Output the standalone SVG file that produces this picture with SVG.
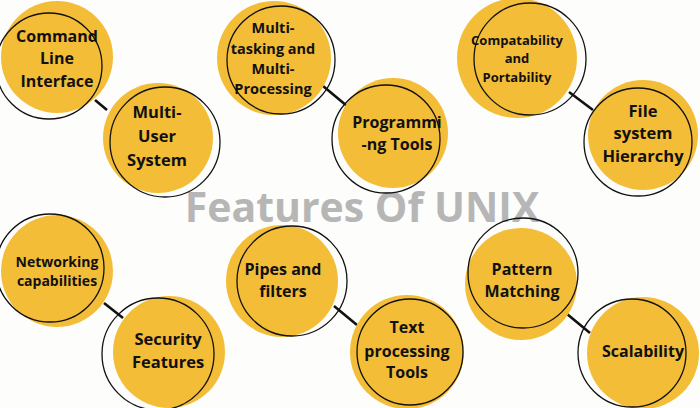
<svg xmlns="http://www.w3.org/2000/svg" width="700" height="408" viewBox="0 0 700 408">
  <style>
    .fill { fill: #f3bd38; }
    .ring { fill: none; stroke: #111; stroke-width: 1.3; }
    .lbl { font-family: "Open Sans", "Liberation Sans", sans-serif; font-weight: 700; fill: #111; text-anchor: middle; }
    .link { stroke: #111; stroke-width: 2.6; stroke-linecap: butt; }
    .title { font-family: "Open Sans", "Liberation Sans", sans-serif; font-weight: 700; fill: #b6b6b6; text-anchor: middle; }
  </style>
  <rect width="700" height="408" fill="#fdfdfb"/>

  <!-- connectors -->
  <g id="connectors">
    <line class="link" x1="95" y1="100" x2="107" y2="110"/>
    <line class="link" x1="323" y1="86" x2="347" y2="106"/>
    <line class="link" x1="569" y1="92" x2="593" y2="110"/>
    <line class="link" x1="104" y1="303" x2="123" y2="318"/>
    <line class="link" x1="334" y1="306" x2="357" y2="325"/>
    <line class="link" x1="567" y1="314" x2="590" y2="333"/>
  </g>

  <text class="title" x="362" y="222" font-size="41">Features Of UNIX</text>

  <g id="cli">
    <circle class="fill" cx="57" cy="57" r="56"/>
    <circle class="ring" cx="49" cy="66" r="53"/>
    <text class="lbl" font-size="16" x="57"><tspan x="57" y="42">Command</tspan><tspan x="57" y="64">Line</tspan><tspan x="57" y="87">Interface</tspan></text>
  </g>

  <g id="multiuser">
    <circle class="fill" cx="158" cy="138" r="55"/>
    <circle class="ring" cx="165" cy="142" r="55"/>
    <text class="lbl" font-size="16.5"><tspan x="157" y="118">Multi-</tspan><tspan x="157" y="142">User</tspan><tspan x="157" y="166">System</tspan></text>
  </g>

  <g id="multitasking">
    <circle class="fill" cx="274" cy="58" r="57"/>
    <circle class="ring" cx="281" cy="60" r="54"/>
    <text class="lbl" font-size="14.5"><tspan x="273" y="33">Multi-</tspan><tspan x="273" y="54">tasking and</tspan><tspan x="273" y="74">Multi-</tspan><tspan x="273" y="94">Processing</tspan></text>
  </g>

  <g id="programming">
    <circle class="fill" cx="393" cy="133" r="55"/>
    <circle class="ring" cx="386" cy="139" r="54"/>
    <text class="lbl" font-size="16"><tspan x="397" y="128">Programmi</tspan><tspan x="397" y="150">-ng Tools</tspan></text>
  </g>

  <g id="compatibility">
    <circle class="fill" cx="517" cy="58" r="60"/>
    <circle class="ring" cx="530" cy="59" r="56"/>
    <text class="lbl" font-size="13"><tspan x="517" y="45">Compatability</tspan><tspan x="517" y="63">and</tspan><tspan x="517" y="82">Portability</tspan></text>
  </g>

  <g id="filesystem">
    <circle class="fill" cx="643" cy="135" r="55"/>
    <circle class="ring" cx="638" cy="142" r="54"/>
    <text class="lbl" font-size="16.5"><tspan x="643" y="117">File</tspan><tspan x="643" y="139">system</tspan><tspan x="643" y="162">Hierarchy</tspan></text>
  </g>

  <g id="networking">
    <circle class="fill" cx="57" cy="271" r="56"/>
    <circle class="ring" cx="50" cy="268" r="54"/>
    <text class="lbl" font-size="14"><tspan x="57" y="267">Networking</tspan><tspan x="57" y="286">capabilities</tspan></text>
  </g>

  <g id="security">
    <circle class="fill" cx="169" cy="352" r="56"/>
    <circle class="ring" cx="158" cy="354" r="56"/>
    <text class="lbl" font-size="16.5"><tspan x="168" y="345">Security</tspan><tspan x="168" y="368">Features</tspan></text>
  </g>

  <g id="pipes">
    <circle class="fill" cx="282" cy="281" r="56"/>
    <circle class="ring" cx="292" cy="281" r="55"/>
    <text class="lbl" font-size="16"><tspan x="283" y="275">Pipes and</tspan><tspan x="283" y="297">filters</tspan></text>
  </g>

  <g id="textproc">
    <circle class="fill" cx="407" cy="352" r="57"/>
    <circle class="ring" cx="410" cy="352" r="53"/>
    <text class="lbl" font-size="16"><tspan x="407" y="333">Text</tspan><tspan x="407" y="357">processing</tspan><tspan x="407" y="378">Tools</tspan></text>
  </g>

  <g id="pattern">
    <circle class="fill" cx="521" cy="284" r="56"/>
    <circle class="ring" cx="523" cy="273" r="55"/>
    <text class="lbl" font-size="16"><tspan x="522" y="275">Pattern</tspan><tspan x="522" y="297">Matching</tspan></text>
  </g>

  <g id="scalability">
    <circle class="fill" cx="643" cy="353" r="56"/>
    <circle class="ring" cx="632" cy="353" r="54"/>
    <text class="lbl" font-size="16"><tspan x="643" y="357">Scalability</tspan></text>
  </g>
</svg>
